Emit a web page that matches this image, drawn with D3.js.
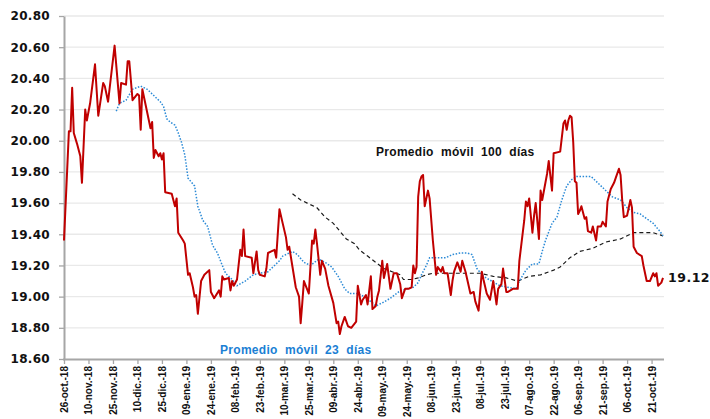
<!DOCTYPE html>
<html>
<head>
<meta charset="utf-8">
<script src="https://cdn.jsdelivr.net/npm/d3@7"></script>
<style>
  body { margin: 0; background: #fff; }
  svg { display: block; }
  .lbl { font-family: "Liberation Sans", Arial, sans-serif; font-weight: bold; font-size: 12px; white-space: pre; letter-spacing: 0.3px; }
</style>
</head>
<body>
<svg id="chart" width="710" height="419"></svg>
<script>
// tipo de cambio diario (fecha yy-mm-dd, valor)
const spot = [
  ['18-10-26', 19.36], ['18-10-29', 20.06], ['18-10-30', 20.06], ['18-10-31', 20.34], ['18-11-01', 20.05],
  ['18-11-03', 19.98], ['18-11-05', 19.90], ['18-11-06', 19.73], ['18-11-08', 20.20], ['18-11-09', 20.13],
  ['18-11-11', 20.24], ['18-11-14', 20.49], ['18-11-16', 20.16], ['18-11-19', 20.37], ['18-11-20', 20.35],
  ['18-11-22', 20.25], ['18-11-26', 20.61], ['18-11-29', 20.24], ['18-11-30', 20.37], ['18-12-03', 20.36],
  ['18-12-04', 20.51], ['18-12-05', 20.51], ['18-12-07', 20.26], ['18-12-10', 20.30], ['18-12-11', 20.29],
  ['18-12-12', 20.07], ['18-12-13', 20.33], ['18-12-18', 20.08], ['18-12-19', 20.12], ['18-12-20', 19.89],
  ['18-12-21', 19.94], ['18-12-23', 19.90], ['18-12-24', 19.92], ['18-12-25', 19.88], ['18-12-26', 19.92],
  ['18-12-27', 19.67], ['18-12-31', 19.66], ['19-01-02', 19.58], ['19-01-03', 19.63], ['19-01-04', 19.41],
  ['19-01-07', 19.36], ['19-01-08', 19.34], ['19-01-10', 19.14], ['19-01-11', 19.15], ['19-01-13', 19.06],
  ['19-01-14', 19.00], ['19-01-15', 19.01], ['19-01-16', 18.89], ['19-01-18', 19.10], ['19-01-20', 19.14],
  ['19-01-23', 19.17], ['19-01-24', 19.03], ['19-01-26', 18.99], ['19-01-29', 19.04], ['19-01-30', 19.00],
  ['19-01-31', 19.13], ['19-02-01', 19.11], ['19-02-04', 19.12], ['19-02-05', 19.04], ['19-02-06', 19.10],
  ['19-02-07', 19.07], ['19-02-09', 19.11], ['19-02-11', 19.30], ['19-02-12', 19.26], ['19-02-13', 19.43],
  ['19-02-14', 19.26], ['19-02-18', 19.25], ['19-02-19', 19.15], ['19-02-21', 19.29], ['19-02-22', 19.17],
  ['19-02-23', 19.14], ['19-02-26', 19.13], ['19-02-27', 19.18], ['19-02-28', 19.28], ['19-03-02', 19.29],
  ['19-03-04', 19.30], ['19-03-05', 19.25], ['19-03-07', 19.56], ['19-03-09', 19.47], ['19-03-11', 19.38],
  ['19-03-12', 19.30], ['19-03-13', 19.32], ['19-03-15', 19.19], ['19-03-17', 19.06], ['19-03-19', 19.00],
  ['19-03-20', 18.83], ['19-03-21', 18.96], ['19-03-22', 19.10], ['19-03-25', 19.02], ['19-03-27', 19.36],
  ['19-03-28', 19.34], ['19-03-29', 19.43], ['19-03-30', 19.34], ['19-04-01', 19.14], ['19-04-02', 19.23],
  ['19-04-04', 19.18], ['19-04-06', 19.07], ['19-04-09', 18.96], ['19-04-11', 18.83], ['19-04-12', 18.84],
  ['19-04-13', 18.76], ['19-04-14', 18.81], ['19-04-16', 18.87], ['19-04-18', 18.81], ['19-04-20', 18.80],
  ['19-04-23', 18.84], ['19-04-24', 19.07], ['19-04-26', 18.95], ['19-04-27', 18.98], ['19-04-29', 19.01],
  ['19-04-30', 18.95], ['19-05-02', 19.13], ['19-05-03', 18.92], ['19-05-05', 18.94], ['19-05-06', 19.00],
  ['19-05-07', 19.04], ['19-05-09', 19.23], ['19-05-10', 19.12], ['19-05-12', 19.21], ['19-05-14', 19.05],
  ['19-05-16', 19.15], ['19-05-18', 19.15], ['19-05-20', 19.08], ['19-05-21', 18.99], ['19-05-23', 19.05],
  ['19-05-25', 19.05], ['19-05-27', 19.06], ['19-05-28', 19.20], ['19-05-29', 19.15], ['19-05-30', 19.19],
  ['19-05-31', 19.64], ['19-06-01', 19.74], ['19-06-02', 19.77], ['19-06-03', 19.78], ['19-06-04', 19.58],
  ['19-06-06', 19.68], ['19-06-07', 19.63], ['19-06-09', 19.36], ['19-06-11', 19.14], ['19-06-12', 19.19],
  ['19-06-14', 19.16], ['19-06-15', 19.19], ['19-06-16', 19.15], ['19-06-18', 19.15], ['19-06-20', 19.01],
  ['19-06-21', 19.10], ['19-06-22', 19.16], ['19-06-24', 19.22], ['19-06-26', 19.16], ['19-06-27', 19.23],
  ['19-06-29', 19.16], ['19-07-02', 19.02], ['19-07-04', 19.03], ['19-07-05', 18.97], ['19-07-07', 18.91],
  ['19-07-09', 19.16], ['19-07-10', 19.11], ['19-07-12', 19.02], ['19-07-14', 18.98], ['19-07-16', 19.10],
  ['19-07-18', 18.95], ['19-07-19', 19.05], ['19-07-21', 19.08], ['19-07-22', 19.18], ['19-07-24', 19.03],
  ['19-07-25', 19.03], ['19-07-28', 19.05], ['19-07-31', 19.05], ['19-08-01', 19.23], ['19-08-04', 19.49],
  ['19-08-05', 19.61], ['19-08-06', 19.58], ['19-08-07', 19.63], ['19-08-09', 19.41], ['19-08-10', 19.52],
  ['19-08-11', 19.60], ['19-08-13', 19.37], ['19-08-14', 19.68], ['19-08-15', 19.62], ['19-08-18', 19.79],
  ['19-08-19', 19.87], ['19-08-21', 19.68], ['19-08-22', 19.92], ['19-08-26', 19.93], ['19-08-28', 20.11],
  ['19-08-29', 20.13], ['19-08-30', 20.07], ['19-08-31', 20.13], ['19-09-01', 20.16], ['19-09-02', 20.15],
  ['19-09-03', 19.99], ['19-09-04', 19.74], ['19-09-05', 19.73], ['19-09-06', 19.53], ['19-09-07', 19.55],
  ['19-09-08', 19.58], ['19-09-10', 19.50], ['19-09-11', 19.51], ['19-09-12', 19.42], ['19-09-14', 19.41],
  ['19-09-15', 19.45], ['19-09-17', 19.36], ['19-09-18', 19.45], ['19-09-20', 19.45], ['19-09-21', 19.48],
  ['19-09-23', 19.45], ['19-09-24', 19.61], ['19-09-26', 19.69], ['19-09-28', 19.73], ['19-09-29', 19.76],
  ['19-10-01', 19.82], ['19-10-02', 19.78], ['19-10-03', 19.62], ['19-10-04', 19.51], ['19-10-06', 19.52],
  ['19-10-07', 19.57], ['19-10-08', 19.62], ['19-10-09', 19.57], ['19-10-10', 19.32], ['19-10-12', 19.28],
  ['19-10-15', 19.26], ['19-10-16', 19.20], ['19-10-18', 19.10], ['19-10-20', 19.10], ['19-10-22', 19.15],
  ['19-10-23', 19.13], ['19-10-24', 19.15], ['19-10-25', 19.07], ['19-10-27', 19.09], ['19-10-28', 19.12]
];

// promedio móvil 23 días
const ma23 = [
  ['18-11-27', 20.19], ['18-11-29', 20.24], ['18-12-03', 20.26], ['18-12-07', 20.33], ['18-12-12', 20.35],
  ['18-12-16', 20.33], ['18-12-20', 20.29], ['18-12-24', 20.25], ['18-12-26', 20.22], ['18-12-28', 20.14],
  ['18-12-30', 20.12], ['19-01-02', 20.10], ['19-01-04', 20.05], ['19-01-06', 19.99], ['19-01-08', 19.91],
  ['19-01-10', 19.76], ['19-01-14', 19.71], ['19-01-16', 19.58], ['19-01-19', 19.49], ['19-01-22', 19.45],
  ['19-01-25', 19.33], ['19-01-28', 19.28], ['19-01-31', 19.20], ['19-02-02', 19.15], ['19-02-06', 19.11],
  ['19-02-09', 19.07], ['19-02-14', 19.10], ['19-02-19', 19.14], ['19-02-23', 19.15], ['19-02-28', 19.16],
  ['19-03-04', 19.20], ['19-03-07', 19.23], ['19-03-09', 19.26], ['19-03-15', 19.29], ['19-03-18', 19.27],
  ['19-03-22', 19.22], ['19-03-26', 19.20], ['19-03-31', 19.24], ['19-04-04', 19.22], ['19-04-08', 19.19],
  ['19-04-12', 19.13], ['19-04-16', 19.05], ['19-04-19', 19.02], ['19-04-24', 19.02], ['19-04-28', 19.00],
  ['19-05-03', 18.96], ['19-05-05', 18.94], ['19-05-09', 18.96], ['19-05-14', 18.99], ['19-05-19', 19.03],
  ['19-05-24', 19.05], ['19-05-28', 19.06], ['19-05-31', 19.09], ['19-06-02', 19.14], ['19-06-05', 19.20],
  ['19-06-07', 19.25], ['19-06-12', 19.25], ['19-06-17', 19.25], ['19-06-21', 19.27], ['19-06-26', 19.28],
  ['19-06-30', 19.28], ['19-07-03', 19.27], ['19-07-06', 19.18], ['19-07-10', 19.13], ['19-07-15', 19.10],
  ['19-07-20', 19.07], ['19-07-25', 19.06], ['19-07-30', 19.05], ['19-08-01', 19.10], ['19-08-05', 19.17],
  ['19-08-09', 19.21], ['19-08-13', 19.21], ['19-08-15', 19.29], ['19-08-17', 19.36], ['19-08-21', 19.47],
  ['19-08-24', 19.51], ['19-08-27', 19.62], ['19-08-30', 19.71], ['19-09-02', 19.75], ['19-09-05', 19.77],
  ['19-09-10', 19.77], ['19-09-14', 19.77], ['19-09-18', 19.73], ['19-09-22', 19.69], ['19-09-27', 19.64],
  ['19-10-02', 19.62], ['19-10-06', 19.57], ['19-10-10', 19.54], ['19-10-14', 19.53], ['19-10-18', 19.50],
  ['19-10-22', 19.47], ['19-10-26', 19.42], ['19-10-28', 19.39]
];

// promedio móvil 100 días
const ma100 = [
  ['19-03-15', 19.66], ['19-03-20', 19.62], ['19-03-24', 19.60], ['19-03-30', 19.57], ['19-04-04', 19.51],
  ['19-04-09', 19.47], ['19-04-13', 19.42], ['19-04-17', 19.37], ['19-04-22', 19.34], ['19-04-25', 19.30],
  ['19-04-30', 19.26], ['19-05-05', 19.22], ['19-05-10', 19.18], ['19-05-15', 19.16], ['19-05-20', 19.14],
  ['19-05-22', 19.11], ['19-05-27', 19.11], ['19-05-31', 19.12], ['19-06-05', 19.14], ['19-06-09', 19.15],
  ['19-06-17', 19.15], ['19-06-30', 19.15], ['19-07-08', 19.15], ['19-07-16', 19.13], ['19-07-24', 19.12],
  ['19-07-31', 19.10], ['19-08-07', 19.13], ['19-08-14', 19.14], ['19-08-22', 19.17], ['19-08-26', 19.19],
  ['19-09-01', 19.25], ['19-09-07', 19.29], ['19-09-15', 19.31], ['19-09-23', 19.35], ['19-10-02', 19.37],
  ['19-10-10', 19.41], ['19-10-16', 19.41], ['19-10-22', 19.41], ['19-10-28', 19.39]
];

const tickDates = [
  '18-10-26', '18-11-10', '18-11-25', '18-12-10', '18-12-25', '19-01-09', '19-01-24', '19-02-08', '19-02-23',
  '19-03-10', '19-03-25', '19-04-09', '19-04-24', '19-05-09', '19-05-24', '19-06-08', '19-06-23', '19-07-08',
  '19-07-23', '19-08-07', '19-08-22', '19-09-06', '19-09-21', '19-10-06', '19-10-21'
];
const monthNames = ['ene', 'feb', 'mar', 'abr', 'may', 'jun', 'jul', 'ago', 'sep', 'oct', 'nov', 'dic'];
const yTicks = [18.6, 18.8, 19.0, 19.2, 19.4, 19.6, 19.8, 20.0, 20.2, 20.4, 20.6, 20.8];
const lastValue = 19.12;

const parse = d3.utcParse('%y-%m-%d');
const fmtTick = d => `${d3.utcFormat('%d')(d)}-${monthNames[d.getUTCMonth()]}.-${d3.utcFormat('%y')(d)}`;

const svg = d3.select('#chart');
const plot = { left: 64, right: 663, top: 16, bottom: 359 };

const x = d3.scaleUtc()
  .domain([parse('18-10-26'), parse('19-10-28')])
  .range([plot.left, plot.right]);
const y = d3.scaleLinear()
  .domain([18.6, 20.8])
  .range([plot.bottom, plot.top]);

// gridlines
svg.append('g')
  .selectAll('line')
  .data(yTicks.slice(1))
  .join('line')
    .attr('x1', plot.left)
    .attr('x2', plot.right + 1)
    .attr('y1', d => y(d))
    .attr('y2', d => y(d))
    .style('stroke', '#e9e9e9')
    .style('stroke-width', 1.3);

// y axis
const yAxis = svg.append('g')
  .attr('transform', `translate(${plot.left},0)`)
  .call(d3.axisLeft(y).tickValues(yTicks).tickFormat(d3.format('.2f')).tickSize(5).tickSizeOuter(0));
yAxis.select('.domain').style('stroke', '#a6a6a6').style('stroke-width', 2);
yAxis.selectAll('.tick line').style('stroke', '#a6a6a6').style('stroke-width', 1.3);
yAxis.selectAll('.tick text')
  .attr('x', -14)
  .style('font-family', '"DejaVu Sans", sans-serif')
  .style('font-weight', 'bold')
  .style('font-size', '12px')
  .style('letter-spacing', '0.3px')
  .style('fill', '#111');

// x axis
const xAxis = svg.append('g')
  .attr('transform', `translate(0,${plot.bottom})`)
  .call(d3.axisBottom(x).tickValues(tickDates.map(parse)).tickFormat(fmtTick).tickSize(5).tickSizeOuter(0));
xAxis.select('.domain').style('stroke', '#a6a6a6').style('stroke-width', 2).attr('d', `M${plot.left - 1},0.5H${plot.right + 1}`);
xAxis.selectAll('.tick line').style('stroke', '#a6a6a6').style('stroke-width', 1.3);
xAxis.selectAll('.tick text')
  .attr('transform', 'rotate(-90)')
  .attr('x', -7)
  .attr('y', 0)
  .attr('dy', '0.35em')
  .style('text-anchor', 'end')
  .style('font-family', '"Liberation Sans", Arial, sans-serif')
  .style('font-weight', 'bold')
  .style('font-size', '10px')
  .style('fill', '#111');

const line = d3.line()
  .x(d => x(parse(d[0])))
  .y(d => y(d[1]));

svg.append('path')
  .datum(ma100)
  .attr('d', line)
  .style('fill', 'none')
  .style('stroke', '#1a1a1a')
  .style('stroke-width', 1.2)
  .style('stroke-dasharray', '4,3');

svg.append('path')
  .datum(ma23)
  .attr('d', line)
  .style('fill', 'none')
  .style('stroke', '#2b8ad6')
  .style('stroke-width', 1.5)
  .style('stroke-dasharray', '1.5,1.6');

svg.append('path')
  .datum(spot)
  .attr('d', line)
  .style('fill', 'none')
  .style('stroke', '#c00000')
  .style('stroke-width', 2)
  .style('stroke-linejoin', 'round');

// labels
svg.append('text')
  .attr('class', 'lbl')
  .attr('x', 376)
  .attr('y', 156)
  .style('fill', '#111')
  .text('Promedio  móvil  100  días');

svg.append('text')
  .attr('class', 'lbl')
  .attr('x', 220)
  .attr('y', 354)
  .style('fill', '#1b7fd4')
  .text('Promedio  móvil  23  días');

const last = spot[spot.length - 1];
svg.append('text')
  .attr('x', x(parse(last[0])) + 5)
  .attr('y', y(lastValue))
  .attr('dy', '0.36em')
  .style('font-family', '"DejaVu Sans", sans-serif')
  .style('font-weight', 'bold')
  .style('font-size', '12.5px')
  .style('letter-spacing', '0.5px')
  .style('fill', '#111')
  .text(d3.format('.2f')(lastValue));
</script>
</body>
</html>
